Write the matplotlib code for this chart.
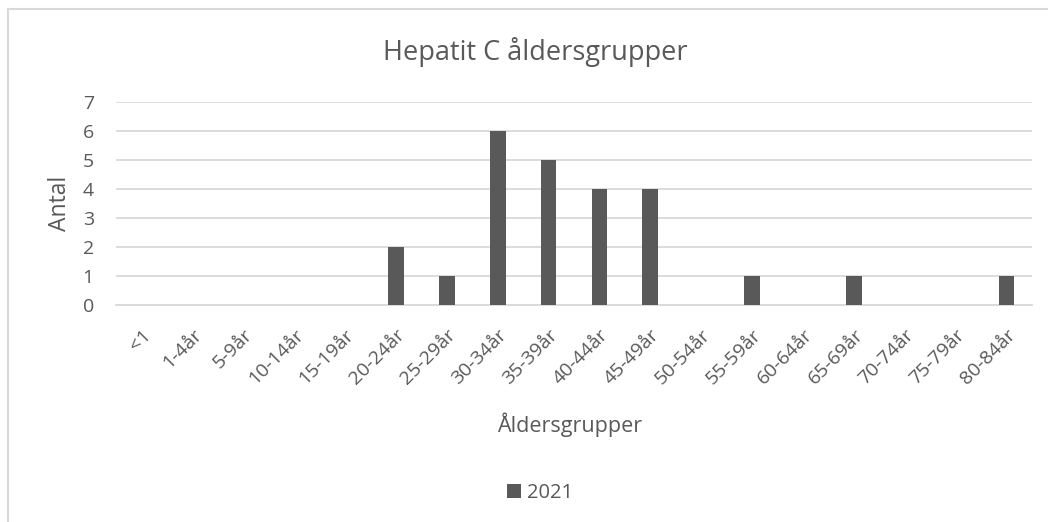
import matplotlib
matplotlib.use("Agg")
import matplotlib.pyplot as plt
from matplotlib.patches import Rectangle

# Data
groups = ['<1', '1-4år', '5-9år', '10-14år', '15-19år', '20-24år', '25-29år',
          '30-34år', '35-39år', '40-44år', '45-49år', '50-54år', '55-59år',
          '60-64år', '65-69år', '70-74år', '75-79år', '80-84år']
counts_2021 = [0, 0, 0, 0, 0, 2, 1, 6, 5, 4, 4, 0, 1, 0, 1, 0, 0, 1]
yticks = [0, 1, 2, 3, 4, 5, 6, 7]

plt.rcParams['font.family'] = ['Open Sans', 'DejaVu Sans']
text_col = '#595959'
bar_col = '#595959'
grid_col = '#d9d9d9'

W, H = 1048, 522
fig = plt.figure(figsize=(W / 100, H / 100), dpi=100)

# outer chart border (runs off the right and bottom edges)
fig.patches.append(Rectangle((8 / W, -0.1), 1.2, 1 - 9 / H + 0.1,
                             transform=fig.transFigure, fill=False,
                             edgecolor=grid_col, linewidth=1.5))

ax = fig.add_axes([116 / W, 1 - 305 / H, (1032 - 116) / W, (305 - 102) / H])
x = range(len(groups))
ax.bar(x, counts_2021, width=0.31, color=bar_col, zorder=3, label='2021')

ax.set_xlim(-0.5, len(groups) - 0.5)
ax.set_ylim(0, 7)
ax.set_yticks(yticks)
ax.yaxis.grid(True, color=grid_col, linewidth=1.3, zorder=0)
for s in ['top', 'right', 'left']:
    ax.spines[s].set_visible(False)
ax.spines['bottom'].set_color(grid_col)
ax.spines['bottom'].set_linewidth(1.3)
ax.tick_params(axis='both', length=0, colors=text_col, labelsize=14)
ax.tick_params(axis='y', pad=16)
ax.set_xticks(list(x))
ax.set_xticklabels(groups, rotation=45, ha='right', va='top',
                   rotation_mode='anchor')
ax.tick_params(axis='x', pad=15, labelsize=14)

ax.set_ylabel('Antal', color=text_col, fontsize=16.5)
ax.yaxis.set_label_coords(-0.061, 0.5)
ax.yaxis.label.set_va('center')
ax.set_xlabel('Åldersgrupper', color=text_col, fontsize=15.5)
ax.xaxis.set_label_coords(0.495, -0.59)
ax.xaxis.label.set_va('center')

fig.text(535 / W, 1 - 52 / H, 'Hepatit C åldersgrupper', ha='center',
         va='center', color=text_col, fontsize=19.5)

fig.legend(loc='center', bbox_to_anchor=(540 / W, 1 - 493 / H), frameon=False,
           fontsize=14.5, labelcolor=text_col, handlelength=0.7, handleheight=0.7,
           handletextpad=0.3)

fig.savefig('out.png', dpi=100)
